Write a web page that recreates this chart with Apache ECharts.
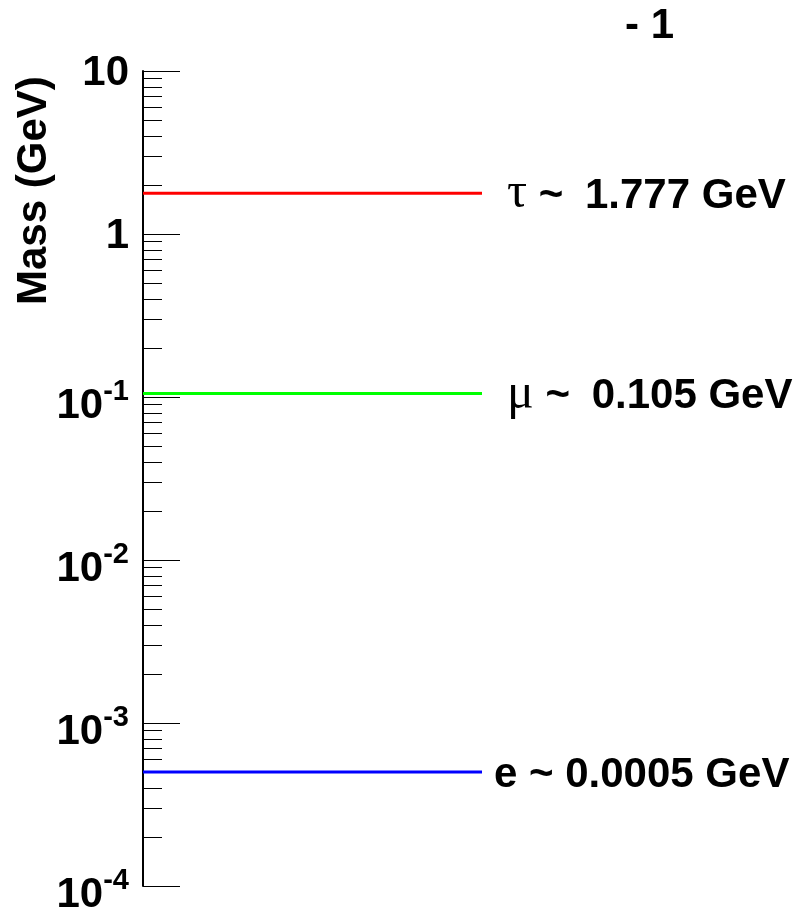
<!DOCTYPE html>
<html><head><meta charset="utf-8">
<script src="https://cdn.jsdelivr.net/npm/echarts@6/dist/echarts.min.js"></script>
<style>html,body{margin:0;padding:0;background:#fff}#c{width:805px;height:916px}</style>
</head><body><div id="c"></div>
<script>
// ---- data ----
const particles = ['e', 'μ', 'τ'];
const masses = [0.0005, 0.105, 1.777];
const massLabels = ['0.0005', '0.105', '1.777'];
const lineColors = ['#0000ff', '#00ff00', '#ff0000'];
const majorTicks = [0.0001, 0.001, 0.01, 0.1, 1, 10];
const tickLabelBase = ['10', '10', '10', '10', '1', '10'];
const tickLabelSup = ['-4', '-3', '-2', '-1', '', ''];
const minorMultipliers = [2, 3, 4, 5, 6, 7, 8, 9];
const minorDecades = [0.0001, 0.001, 0.01, 0.1, 1];
const titleText = '- 1';
const yAxisTitle = 'Mass (GeV)';

const minorTicks = [];
minorDecades.forEach(d => minorMultipliers.forEach(m => minorTicks.push(+(m * d).toPrecision(6))));

const FONT = '"Liberation Sans", Arial, Helvetica, sans-serif';
const chart = echarts.init(document.getElementById('c'), null, {renderer: 'canvas'});

const isGreek = p => /[α-ω]/.test(p);
const series = particles.map((p, i) => ({
  type: 'line',
  name: p,
  symbol: 'none',
  silent: true,
  data: [[0, masses[i]], [1, masses[i]]],
  lineStyle: {color: lineColors[i], width: 3},
  itemStyle: {color: lineColors[i]},
  endLabel: {
    show: true,
    distance: isGreek(p) ? 25 : 12,
    formatter: () => isGreek(p)
      ? '{g|' + p + '}{tg| ~}{t| ' + massLabels[i] + ' GeV}'
      : '{t|' + p + ' ~ ' + massLabels[i] + ' GeV}',
    rich: {
      g: {fontFamily: '"Liberation Serif", "DejaVu Serif", serif', fontSize: 50, fontWeight: 'normal', color: '#000', lineHeight: 42, padding: [2, 0, 0, 0]},
      tg: {fontFamily: FONT, fontSize: 42, fontWeight: 'bold', color: '#000', lineHeight: 42, padding: [6, 10, 0, 0]},
      t: {fontFamily: FONT, fontSize: 42, fontWeight: 'bold', color: '#000', lineHeight: 42, padding: [6, 0, 0, 0]}
    }
  }
}));

chart.setOption({
  animation: false,
  backgroundColor: '#fff',
  title: {
    text: titleText, left: 620, top: 0,
    textStyle: {fontFamily: FONT, fontSize: 42, fontWeight: 'bold', color: '#000'}
  },
  grid: {left: 143, right: 323, top: 71, bottom: 27, containLabel: false},
  xAxis: {type: 'value', min: 0, max: 1, show: false},
  yAxis: [{
    type: 'log', logBase: 10, min: 0.0001, max: 10, position: 'left',
    axisLine: {show: true, lineStyle: {color: '#000', width: 2}},
    splitLine: {show: false},
    axisTick: {show: true, inside: true, length: 37, customValues: majorTicks, lineStyle: {color: '#000', width: 1}},
    minorTick: {show: false},
    axisLabel: {
      show: true, margin: 14, customValues: majorTicks,
      formatter: (v) => {
        const idx = majorTicks.findIndex(t => Math.abs(Math.log10(t) - Math.log10(v)) < 1e-6);
        if (idx < 0) return '';
        return tickLabelSup[idx] ? '{b|' + tickLabelBase[idx] + '}{s|' + tickLabelSup[idx] + '}' : '{p|' + tickLabelBase[idx] + '}';
      },
      rich: {
        p: {fontFamily: FONT, fontSize: 42, fontWeight: 'bold', color: '#000', lineHeight: 42, padding: [4, 0, 0, 0]},
        b: {fontFamily: FONT, fontSize: 42, fontWeight: 'bold', color: '#000', lineHeight: 42, padding: [18, 0, 0, 0]},
        s: {fontFamily: FONT, fontSize: 29, fontWeight: 'bold', color: '#000', lineHeight: 42, padding: [0, 0, 10, 0]}
      }
    }
  }, {
    type: 'log', logBase: 10, min: 0.0001, max: 10, position: 'left',
    axisLine: {show: false}, splitLine: {show: false},
    axisLabel: {show: false},
    axisTick: {show: true, inside: true, length: 19, customValues: minorTicks, lineStyle: {color: '#000', width: 1}}
  }],
  graphic: [{
    type: 'text', x: 34, y: 305, rotation: Math.PI / 2,
    style: {text: yAxisTitle, fontFamily: FONT, fontSize: 42, fontWeight: 'bold', fill: '#000', align: 'left', verticalAlign: 'middle'}
  }],
  series: series
});
</script></body></html>
